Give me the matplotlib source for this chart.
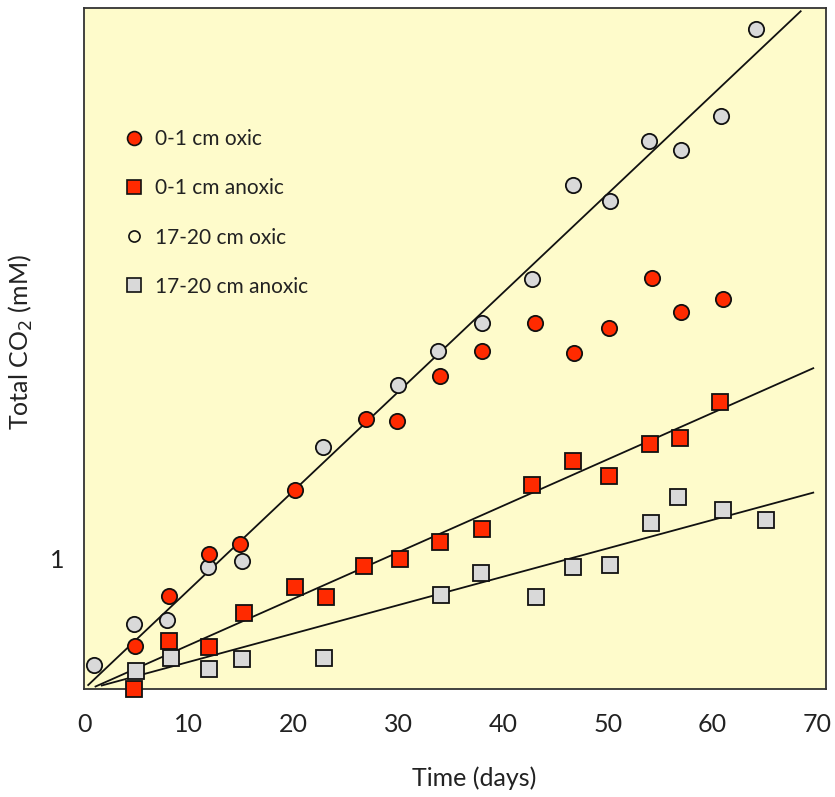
import numpy as np
import matplotlib
matplotlib.use("Agg")
import matplotlib.pyplot as plt
from matplotlib.lines import Line2D

plt.rcParams['font.family'] = ['Lato', 'DejaVu Sans']

# === DATA ===
oxic_top_x = [4.9, 8.1, 11.95, 14.9, 20.1, 26.9, 29.9, 34.0, 38.0, 43.0, 46.8, 50.1, 54.2, 57.0, 61.0]
oxic_top_y = [0.33, 0.71, 1.03, 1.11, 1.52, 2.06, 2.05, 2.39, 2.58, 2.80, 2.57, 2.76, 3.14, 2.88, 2.98]

anoxic_top_x = [4.8, 8.1, 11.9, 15.3, 20.1, 23.1, 26.7, 30.2, 34.0, 38.0, 42.8, 46.7, 50.1, 54.0, 56.9, 60.7]
anoxic_top_y = [0.0, 0.37, 0.32, 0.58, 0.78, 0.70, 0.94, 0.99, 1.12, 1.22, 1.56, 1.74, 1.63, 1.87, 1.92, 2.19]

oxic_deep_x = [1.0, 4.8, 7.9, 11.8, 15.1, 22.8, 30.0, 33.8, 38.0, 42.8, 46.7, 50.2, 53.9, 57.0, 60.8, 64.1]
oxic_deep_y = [0.18, 0.50, 0.53, 0.93, 0.98, 1.85, 2.32, 2.58, 2.80, 3.13, 3.85, 3.73, 4.19, 4.12, 4.38, 5.04]

anoxic_deep_x = [5.0, 8.3, 11.9, 15.1, 22.9, 34.1, 37.9, 43.1, 46.7, 50.2, 54.1, 56.7, 61.0, 65.1]
anoxic_deep_y = [0.14, 0.24, 0.15, 0.23, 0.24, 0.72, 0.89, 0.70, 0.93, 0.95, 1.27, 1.47, 1.37, 1.29]

# regression lines: (slope, intercept, x start, x end)
fit_oxic = (0.0757, 0.0, 0.4, 68.4)
fit_anoxic_top = (0.0355, -0.02, 1.1, 69.6)
fit_anoxic_deep = (0.0217, -0.01, 1.7, 69.6)

labels = ["0-1 cm oxic", "0-1 cm anoxic", "17-20 cm oxic", "17-20 cm anoxic"]

RED = "#ff2a00"
GRAY = "#d9d9d9"
BG = "#fefbcb"

fig = plt.figure(figsize=(8.35, 7.97), dpi=100)
ax = fig.add_axes([0.1006, 0.1355, 0.8884, 0.854])
ax.set_facecolor(BG)

for slope, icpt, xa, xb in [fit_oxic, fit_anoxic_top, fit_anoxic_deep]:
    xs = np.array([xa, xb])
    ax.plot(xs, slope * xs + icpt, color="#111111", lw=1.3, zorder=2)

ms = 11
ax.plot(anoxic_deep_x, anoxic_deep_y, 's', ms=ms, mfc=GRAY, mec="#111111", mew=1.3, clip_on=False, zorder=3)
ax.plot(anoxic_top_x, anoxic_top_y, 's', ms=ms, mfc=RED, mec="#111111", mew=1.3, clip_on=False, zorder=3)
ax.plot(oxic_deep_x, oxic_deep_y, 'o', ms=ms, mfc=GRAY, mec="#111111", mew=1.3, clip_on=False, zorder=4)
ax.plot(oxic_top_x, oxic_top_y, 'o', ms=ms, mfc=RED, mec="#111111", mew=1.3, clip_on=False, zorder=4)

ax.set_xlim(0, 70.8)
ax.set_ylim(0, 5.2)
ax.set_xticks(range(0, 71, 10))
ax.set_yticks([1])
ax.tick_params(length=0, labelsize=18, labelcolor="#222222")
ax.tick_params(axis='x', pad=17)
ax.tick_params(axis='y', pad=14)

for sp in ax.spines.values():
    sp.set_color("#333333")
    sp.set_linewidth(1.3)

ax.set_xlabel("Time (days)", fontsize=18, color="#222222")
ax.xaxis.set_label_coords(0.526, -0.113)
ax.set_ylabel("Total CO$_2$ (mM)", fontsize=18, color="#222222")
ax.yaxis.set_label_coords(-0.066, 0.51)

handles = [
    Line2D([], [], ls='none', marker='o', ms=10, mfc=RED, mec="#111111", mew=1.2),
    Line2D([], [], ls='none', marker='s', ms=10, mfc=RED, mec="#111111", mew=1.2),
    Line2D([], [], ls='none', marker='o', ms=8, mfc=BG, mec="#111111", mew=1.2),
    Line2D([], [], ls='none', marker='s', ms=10, mfc=GRAY, mec="#111111", mew=1.2),
]
ax.legend(handles, labels, loc='upper left', bbox_to_anchor=(0.028, 0.85),
          frameon=False, fontsize=15, labelspacing=1.4, handletextpad=0.5,
          handlelength=1.0, labelcolor="#222222")

fig.savefig("out.png", dpi=100)
